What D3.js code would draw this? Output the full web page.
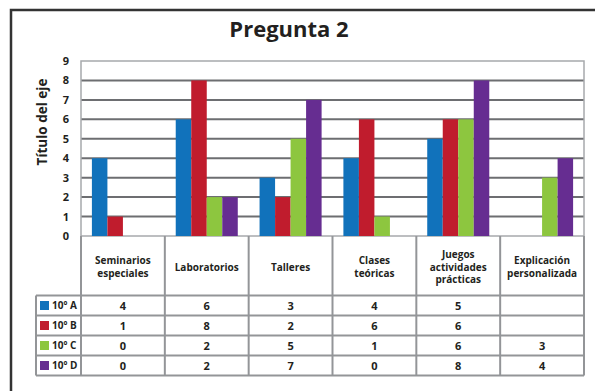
<!DOCTYPE html>
<html><head><meta charset="utf-8">
<script src="https://cdn.jsdelivr.net/npm/d3@7"></script>
<style>body{margin:0;background:#fff}svg{display:block}</style>
</head><body>
<div id="chart"></div>
<script>
const categories = [["Seminarios","especiales"],["Laboratorios"],["Talleres"],["Clases","teóricas"],["Juegos","actividades","prácticas"],["Explicación","personalizada"]];
const seriesNames = ["10º A","10º B","10º C","10º D"];
const seriesColors = ["#1172bb","#c01c2d","#8dc63f","#662d91"];
const values = [
  [4,6,3,4,5,null],
  [1,8,2,6,6,null],
  [0,2,5,1,6,3],
  [0,2,7,0,8,4]
];
const yTicks = [0,1,2,3,4,5,6,7,8,9];
const title = "Pregunta 2";
const yTitle = "Título del eje";

(function(){
const W=595,H=391;
const font="'Open Sans', sans-serif";
const svg=d3.select("#chart").append("svg").attr("width",W).attr("height",H);

// outer frame
svg.append("rect").attr("x",11).attr("y",10).attr("width",W+20).attr("height",H+20)
  .attr("fill","none").attr("stroke","#333").attr("stroke-width",2.5);

svg.append("text").attr("x",289).attr("y",37).attr("text-anchor","middle")
  .attr("font-family",font).attr("font-weight",700).attr("font-size",22).attr("fill","#231f20").text(title);

const pL=81,pR=584,pT=61,pB=236;
const x=d3.scaleBand().domain(d3.range(categories.length)).range([pL,pR]);
const y=d3.scaleLinear().domain([0,9]).range([pB,pT]);
const bw=x.bandwidth()*0.74/4;
const xs=d3.scaleBand().domain(d3.range(seriesNames.length)).range([0,bw*4]);

const g=svg.append("g");
g.selectAll("line.grid").data(yTicks.filter(t=>t>0 && t<9)).join("line")
  .attr("x1",pL).attr("x2",pR).attr("y1",d=>y(d)).attr("y2",d=>y(d))
  .attr("stroke","#6d6e71").attr("stroke-width",2);
g.append("rect").attr("x",pL).attr("y",pT).attr("width",pR-pL).attr("height",pB-pT)
  .attr("fill","none").attr("stroke","#a7a9ac").attr("stroke-width",1.5);

values.forEach((vals,si)=>{
  g.selectAll("rect.s"+si).data(vals.map((v,ci)=>({v,ci})).filter(d=>d.v)).join("rect")
    .attr("class","s"+si)
    .attr("x",d=>x(d.ci)+(x.bandwidth()-bw*4)/2+xs(si))
    .attr("y",d=>y(d.v)).attr("width",bw).attr("height",d=>pB-y(d.v))
    .attr("fill",seriesColors[si]);
});

const ya=svg.append("g").attr("transform",`translate(${pL},0)`)
  .call(d3.axisLeft(y).tickValues(yTicks).tickSize(0).tickPadding(12).tickFormat(d3.format("d")));
ya.select(".domain").remove();
ya.selectAll("text").attr("font-family",font).attr("font-weight",700).attr("font-size",11).attr("fill","#231f20");

svg.append("text").attr("transform","translate(47,122) rotate(-90)").attr("text-anchor","middle")
  .attr("font-family",font).attr("font-weight",700).attr("font-size",13.5).attr("fill","#231f20").text(yTitle);

const rowTop=[236,295.5,315.5,335.5,355.5,375.5];
const legL=36;
const tg=svg.append("g");
const tc="#939598";
x.domain().forEach(i=>{
  tg.append("line").attr("x1",x(i)).attr("x2",x(i)).attr("y1",236).attr("y2",375.5).attr("stroke",tc).attr("stroke-width",2);
});
tg.append("line").attr("x1",pR).attr("x2",pR).attr("y1",236).attr("y2",375.5).attr("stroke",tc).attr("stroke-width",2);
tg.append("line").attr("x1",legL).attr("x2",legL).attr("y1",295.5).attr("y2",375.5).attr("stroke",tc).attr("stroke-width",2);
rowTop.slice(1).forEach(r=>{
  tg.append("line").attr("x1",legL).attr("x2",pR).attr("y1",r).attr("y2",r).attr("stroke",tc).attr("stroke-width",2);
});
categories.forEach((lines,i)=>{
  const cy=267, lh=12.5;
  const t=tg.append("text").attr("text-anchor","middle").attr("font-family",font).attr("font-weight",700)
    .attr("font-size",10).attr("fill","#231f20");
  lines.forEach((l,k)=>{
    t.append("tspan").attr("x",x(i)+x.bandwidth()/2).attr("y",cy+(k-(lines.length-1)/2)*lh+3.5).text(l);
  });
});
seriesNames.forEach((n,si)=>{
  const r0=rowTop[si+1], r1=rowTop[si+2], cy=(r0+r1)/2;
  tg.append("rect").attr("x",40).attr("y",cy-4.5).attr("width",9).attr("height",9).attr("fill",seriesColors[si]);
  tg.append("text").attr("x",52).attr("y",cy+3.5).attr("font-family",font).attr("font-weight",700)
    .attr("font-size",10).attr("fill","#231f20").text(n);
  values[si].forEach((v,ci)=>{
    if(v===null) return;
    tg.append("text").attr("x",x(ci)+x.bandwidth()/2).attr("y",cy+4).attr("text-anchor","middle")
      .attr("font-family",font).attr("font-weight",700).attr("font-size",11).attr("fill","#231f20").text(v);
  });
});
})();
</script>
</body></html>
